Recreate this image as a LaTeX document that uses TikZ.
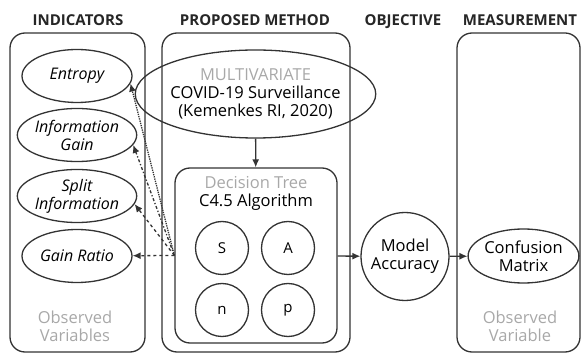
\documentclass[tikz,border=0pt]{standalone}
\usepackage{fontspec}
\setmainfont{Open Sans}
\usetikzlibrary{shapes.geometric,arrows.meta}
\definecolor{linegray}{HTML}{333333}
\definecolor{softgray}{HTML}{A8A8A8}

\begin{document}
\begin{tikzpicture}[x=1pt, y=-1pt, line width=1.3pt, >={Latex[length=8pt,width=7pt]},
    every node/.style={font=\fontsize{16.5}{18}\selectfont, text=black},
    title/.style={font=\fontsize{15}{16}\selectfont\bfseries, text=black!85, anchor=base},
    panel/.style={draw=linegray, rounded corners=15pt, inner sep=0pt},
    indicator/.style={draw=linegray, ellipse, inner sep=0pt, minimum width=110pt, minimum height=53pt, align=center, font=\fontsize{16}{18}\selectfont\itshape},
    param/.style={draw=linegray, circle, inner sep=0pt, minimum size=53pt, font=\fontsize{15}{16}\selectfont},
    faint/.style={text=softgray, align=center},
    arr/.style={->, draw=linegray}]
    \useasboundingbox (0,0) rectangle (581,355);

    % column titles
    \node[title] (tind) at (78,26) {INDICATORS};
    \node[title] (tmet) at (255,26) {PROPOSED METHOD};
    \node[title] (tobj) at (403,26) {OBJECTIVE};
    \node[title] (tmea) at (520,26) {MEASUREMENT};

    % panels
    \node[panel, minimum width=135pt, minimum height=319pt] (indpanel) at (77.5,192.5) {};
    \node[panel, minimum width=188pt, minimum height=319pt] (metpanel) at (256,192.5) {};
    \node[panel, minimum width=123pt, minimum height=319pt] (meapanel) at (518.5,192.5) {};

    % indicators
    \node[indicator] (entropy) at (77,76) {Entropy};
    \node[indicator] (infogain) at (77,135) {Information\\Gain};
    \node[indicator] (splitinfo) at (77,196) {Split\\Information};
    \node[indicator] (gainratio) at (77,256) {Gain Ratio};
    \node[faint] (obsvars) at (75,326) {Observed\\Variables};

    % proposed method
    \node[draw=linegray, ellipse, inner sep=0pt, minimum width=176pt, minimum height=88pt, align=center] (dataset) at (255.5,94)
        {\textcolor{softgray}{MULTIVARIATE}\\COVID-19 Surveillance\\(Kemenkes RI, 2020)};
    \node[panel, minimum width=162pt, minimum height=175pt] (dtbox) at (256,255.5) {};
    \node[faint] (dtname) at (256,183) {Decision Tree};
    \node (algo) at (256,202) {C4.5 Algorithm};
    \node[param] (pS) at (222,248) {S};
    \node[param] (pA) at (288,248) {A};
    \node[param] (pn) at (222,310) {n};
    \node[param] (pp) at (288,310) {p};

    % objective and measurement
    \node[draw=linegray, circle, inner sep=0pt, minimum size=88pt, align=center] (accuracy) at (405,256.5) {Model\\Accuracy};
    \node[draw=linegray, ellipse, inner sep=0pt, minimum width=107pt, minimum height=54pt, align=center] (confusion) at (523.5,256) {Confusion\\Matrix};
    \node[faint] (obsvar) at (520,326) {Observed\\Variable};

    % connectors
    \draw[arr] (dataset) -- (dtbox);
    \draw[arr] (dtbox) -- (accuracy);
    \draw[arr] (accuracy) -- (confusion);
    \draw[arr, densely dotted] (dtbox.west) -- (entropy.-8);
    \draw[arr, dash dot] (dtbox.west) -- (infogain.-10);
    \draw[arr, dashed] (dtbox.west) -- (splitinfo.-8);
    \draw[arr, dashed] (dtbox.west) -- (gainratio);
\end{tikzpicture}
\end{document}
